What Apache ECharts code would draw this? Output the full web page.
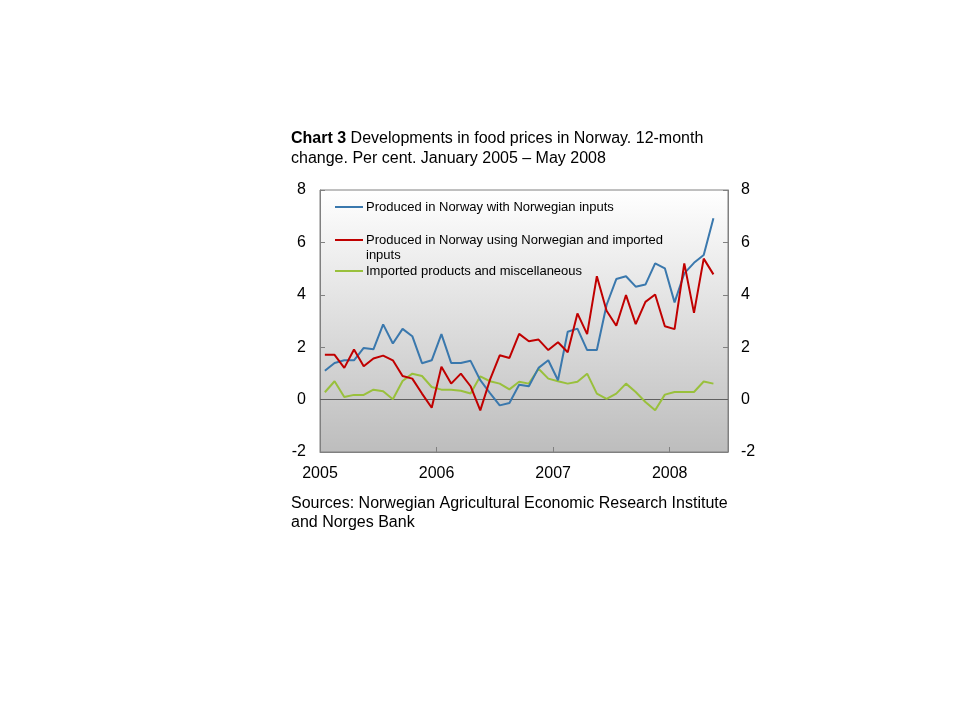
<!DOCTYPE html>
<html>
<head>
<meta charset="utf-8">
<script src="https://cdn.jsdelivr.net/npm/echarts@6/dist/echarts.min.js"></script>
<style>html,body{margin:0;padding:0;background:#fff;}#chart{width:960px;height:720px;}</style>
</head>
<body>
<div id="chart"></div>
<script>
// Monthly observations, January 2005 – May 2008
var startYear = 2005;
var yearLabels = ['2005', '2006', '2007', '2008'];
var seriesNames = [
  'Produced in Norway with Norwegian inputs',
  'Produced in Norway using Norwegian and imported\ninputs',
  'Imported products and miscellaneous'
];
var norwegianInputs = [
  1.10, 1.40, 1.50, 1.50, 1.97, 1.92, 2.87, 2.14, 2.70, 2.42, 1.39, 1.50,
  2.50, 1.40, 1.40, 1.48, 0.74, 0.25, -0.22, -0.13, 0.57, 0.51, 1.21, 1.50,
  0.74, 2.59, 2.71, 1.89, 1.89, 3.61, 4.60, 4.71, 4.31, 4.39, 5.20, 5.01,
  3.71, 4.82, 5.22, 5.52, 6.92
];
var mixedInputs = [
  1.71, 1.71, 1.21, 1.91, 1.27, 1.57, 1.68, 1.50, 0.90, 0.80, 0.23, -0.31,
  1.25, 0.61, 0.99, 0.51, -0.41, 0.76, 1.69, 1.59, 2.51, 2.23, 2.29, 1.89,
  2.19, 1.81, 3.29, 2.50, 4.71, 3.39, 2.82, 3.99, 2.88, 3.73, 4.01, 2.80,
  2.69, 5.20, 3.31, 5.38, 4.78
];
var importedProducts = [
  0.28, 0.70, 0.10, 0.18, 0.18, 0.38, 0.32, 0.01, 0.71, 0.99, 0.90, 0.48,
  0.38, 0.38, 0.34, 0.23, 0.89, 0.70, 0.61, 0.39, 0.68, 0.61, 1.18, 0.80,
  0.70, 0.61, 0.68, 0.99, 0.23, 0.03, 0.23, 0.61, 0.29, -0.09, -0.41, 0.19,
  0.29, 0.29, 0.29, 0.69, 0.61
];
var yTicks = { min: -2, max: 8, interval: 2 };

var colors = ['#3a78ad', '#c00000', '#99c03c'];
var font = "'Liberation Sans', Arial, sans-serif";

function toPoints(arr) {
  // x measured in months since January 2005; each observation sits mid-month
  return arr.map(function (v, i) { return [i + 0.5, v]; });
}

var chart = echarts.init(document.getElementById('chart'), null, { renderer: 'canvas' });

var gridL = 320, gridT = 190, gridW = 408, gridH = 262;

var yAxisCommon = {
  type: 'value', min: yTicks.min, max: yTicks.max, interval: yTicks.interval,
  axisLine: { show: true, lineStyle: { color: '#808080', width: 1 } },
  axisTick: { show: true, inside: true, length: 5, lineStyle: { color: '#808080' } },
  splitLine: { show: false },
  axisLabel: { color: '#000', fontFamily: font, fontSize: 16 }
};

var legendY = [207, 240, 271];
var legendGraphics = [];
seriesNames.forEach(function (name, k) {
  legendGraphics.push({
    type: 'line', silent: true,
    shape: { x1: 335, y1: legendY[k], x2: 363, y2: legendY[k] },
    style: { stroke: colors[k], lineWidth: 2 }
  });
  legendGraphics.push({
    type: 'text', silent: true, x: 366, y: legendY[k] - 7,
    style: { text: name, fill: '#000', font: '13px ' + font, lineHeight: 15, textVerticalAlign: 'top' }
  });
});

chart.setOption({
  animation: false,
  backgroundColor: '#fff',
  grid: {
    left: gridL, top: gridT, width: gridW, height: gridH,
    show: true, borderColor: '#808080', borderWidth: 1,
    backgroundColor: {
      type: 'linear', x: 0, y: 0, x2: 0, y2: 1,
      colorStops: [{ offset: 0, color: '#ffffff' }, { offset: 1, color: '#bdbdbd' }]
    }
  },
  xAxis: {
    type: 'value', min: 0, max: 42, interval: 12,
    axisLine: { show: true, onZero: false, lineStyle: { color: '#808080' } },
    axisTick: { show: true, inside: true, length: 5, lineStyle: { color: '#808080' } },
    splitLine: { show: false },
    axisLabel: {
      color: '#000', fontFamily: font, fontSize: 16, margin: 14,
      formatter: function (v) {
        if (v % 12 !== 0) return '';
        var k = v / 12;
        return yearLabels[k] || '';
      }
    }
  },
  yAxis: [
    Object.assign({}, yAxisCommon, { position: 'left', axisLabel: Object.assign({}, yAxisCommon.axisLabel, { margin: 14 }) }),
    Object.assign({}, yAxisCommon, { position: 'right', axisLabel: Object.assign({}, yAxisCommon.axisLabel, { margin: 13 }) })
  ],
  series: [
    {
      name: seriesNames[0], type: 'line', data: toPoints(norwegianInputs), showSymbol: false,
      lineStyle: { color: colors[0], width: 2 }, itemStyle: { color: colors[0] }, z: 3,
      markLine: {
        silent: true, symbol: 'none', label: { show: false },
        lineStyle: { color: '#606060', width: 1, type: 'solid' },
        data: [{ yAxis: 0 }], z: 1
      }
    },
    {
      name: seriesNames[1], type: 'line', data: toPoints(mixedInputs), showSymbol: false,
      lineStyle: { color: colors[1], width: 2 }, itemStyle: { color: colors[1] }, z: 4
    },
    {
      name: seriesNames[2], type: 'line', data: toPoints(importedProducts), showSymbol: false,
      lineStyle: { color: colors[2], width: 2 }, itemStyle: { color: colors[2] }, z: 2
    }
  ],
  graphic: [
    {
      type: 'text', silent: true, left: 291, top: 129,
      style: {
        rich: { b: { fontWeight: 'bold', fontSize: 16, fontFamily: font, fill: '#000' },
                n: { fontSize: 16, fontFamily: font, fill: '#000' } },
        text: '{b|Chart 3} {n|Developments in food prices in Norway. 12-month}\n{n|change. Per cent. January 2005 – May 2008}',
        lineHeight: 20, fill: '#000', font: '16px ' + font
      }
    },
    {
      type: 'text', silent: true, left: 291, top: 494,
      style: {
        text: 'Sources: Norwegian Agricultural Economic Research Institute\nand Norges Bank',
        font: '16px ' + font, lineHeight: 19, fill: '#000'
      }
    }
  ].concat(legendGraphics)
});
</script>
</body>
</html>
